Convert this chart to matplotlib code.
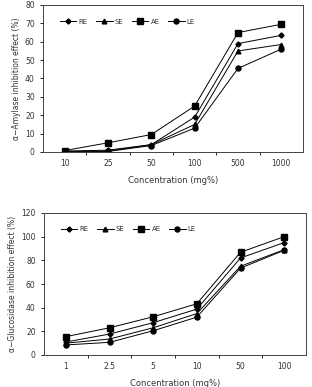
import matplotlib
matplotlib.use("Agg")
import matplotlib.pyplot as plt
import numpy as np

# alpha-amylase panel
amy_conc = ["10", "25", "50", "100", "500", "1000"]
amy_re = [0.5, 1.0, 4.0, 19.0, 59.0, 63.5]
amy_se = [0.3, 0.5, 4.0, 15.0, 55.0, 58.5]
amy_ae = [0.8, 5.0, 9.5, 25.0, 65.0, 69.5]
amy_le = [0.0, 0.3, 3.5, 13.0, 45.5, 56.0]

# alpha-glucosidase panel
glu_conc = ["1", "2.5", "5", "10", "50", "100"]
glu_re = [11.0, 17.7, 27.3, 38.8, 82.0, 95.0]
glu_se = [10.0, 13.5, 23.0, 35.0, 75.0, 89.0]
glu_ae = [15.5, 23.0, 32.3, 43.3, 86.8, 100.0]
glu_le = [8.5, 10.7, 20.5, 32.0, 73.4, 88.5]

names = ["RE", "SE", "AE", "LE"]
markers = ["D", "^", "s", "o"]
msizes = [2.6, 3.4, 3.8, 3.6]

plt.rcParams["font.family"] = ["DejaVu Sans"]
txt = "#333333"

fig = plt.figure(figsize=(3.12, 3.87), dpi=100)
ax1 = fig.add_axes([43 / 312, 1 - 152 / 387, 260 / 312, 147 / 387])
ax2 = fig.add_axes([44 / 312, 1 - 355 / 387, 262 / 312, 142 / 387])


def panel(ax, conc, series, ymax, ystep, ylabel):
    x = np.arange(len(conc))
    for vals, name, m, ms in zip(series, names, markers, msizes):
        ax.plot(x, vals, color="black", lw=0.7, marker=m, ms=ms,
                mfc="black", mec="black", label=name)
    ax.set_xlim(-0.5, len(conc) - 0.5)
    ax.set_ylim(0, ymax)
    ax.set_yticks(np.arange(0, ymax + 1, ystep))
    ax.set_xticks(x)
    ax.set_xticklabels(conc)
    ax.set_xticks(x[:-1] + 0.5, minor=True)
    ax.tick_params(axis="x", which="major", length=0, labelsize=5.5,
                   labelcolor=txt, pad=5)
    ax.tick_params(axis="x", which="minor", length=2.5, width=0.6,
                   direction="out")
    ax.tick_params(axis="y", length=2.5, width=0.6, labelsize=5.5,
                   labelcolor=txt, direction="out")
    for s in ax.spines.values():
        s.set_linewidth(0.7)
        s.set_color("#444444")
    ax.set_xlabel("Concentration (mg%)", fontsize=6, color=txt, labelpad=6)
    ax.set_ylabel(ylabel, fontsize=5.5, color=txt, labelpad=3)
    ax.legend(loc="upper left", ncol=4, frameon=False, fontsize=5,
              handlelength=2.4, columnspacing=1.2, handletextpad=0.3,
              bbox_to_anchor=(0.04, 0.95), labelcolor=txt)


panel(ax1, amy_conc, [amy_re, amy_se, amy_ae, amy_le], 80, 10,
      "α−Amylase inhibition effect (%)")
panel(ax2, glu_conc, [glu_re, glu_se, glu_ae, glu_le], 120, 20,
      "α−Glucosidase inhibition effect (%)")

fig.savefig("out.png", dpi=100)
